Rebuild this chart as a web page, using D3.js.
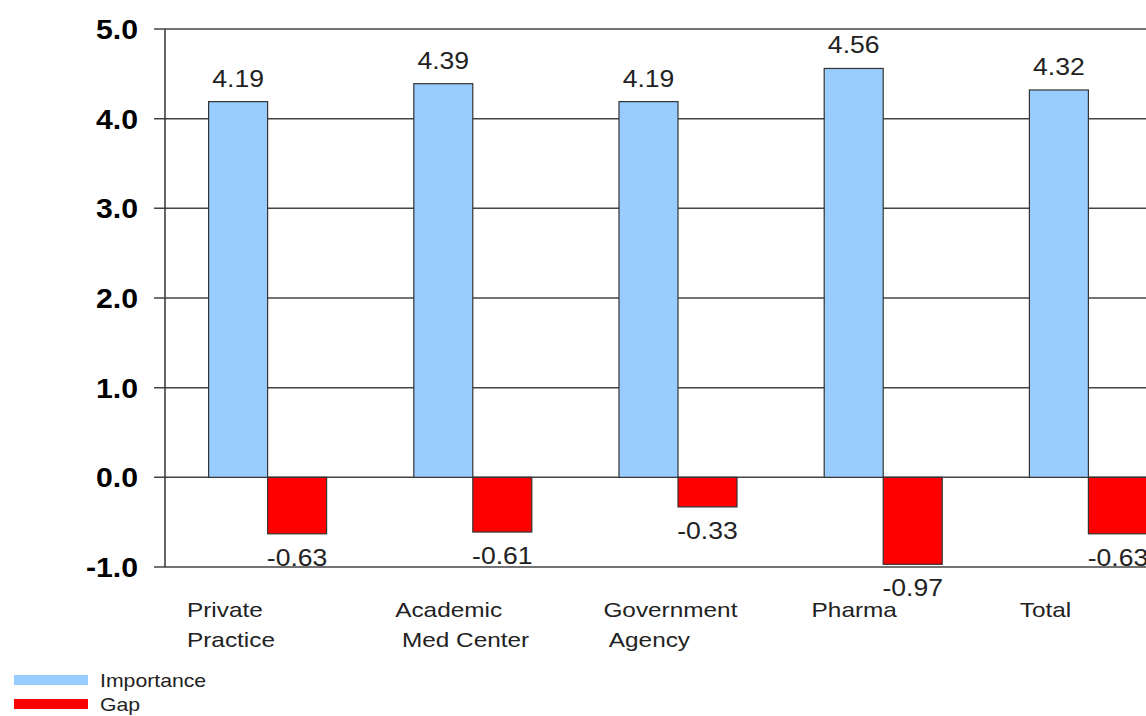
<!DOCTYPE html>
<html><head><meta charset="utf-8">
<script src="https://cdn.jsdelivr.net/npm/d3@7"></script>
<style>
html,body{margin:0;padding:0;background:#fff;overflow:hidden;}
text{font-family:"Liberation Sans",Arial,sans-serif;}
</style></head>
<body>
<svg id="c" width="1146" height="716"></svg>
<script>
const categories = [["Private","Practice"],["Academic"," Med Center"],["Government"," Agency"],["Pharma"],["Total"]];
const importance = [4.19, 4.39, 4.19, 4.56, 4.32];
const gap = [-0.63, -0.61, -0.33, -0.97, -0.63];
const yTicks = [-1, 0, 1, 2, 3, 4, 5];
const seriesNames = ["Importance", "Gap"];
const colors = ["#99ccff", "#ff0000"];

const svg = d3.select("#c");
const mLeft = 165, mRight = 1191, mTop = 29, mBottom = 567;
const x = d3.scaleBand().domain(d3.range(categories.length)).range([mLeft, mRight]);
const y = d3.scaleLinear().domain([-1, 5]).range([mBottom, mTop]);
const bw = 59;
const sx = 1.15;
const tf = (px, py, s) => `translate(${px},${py}) scale(${s || sx},1)`;

// gridlines
svg.append("g").selectAll("line").data(yTicks).join("line")
  .attr("x1", mLeft - 11).attr("x2", mRight)
  .attr("y1", d => y(d)).attr("y2", d => y(d))
  .attr("stroke", "#444").attr("stroke-width", 1.5);

// y axis line
svg.append("line").attr("x1", mLeft).attr("x2", mLeft).attr("y1", mTop).attr("y2", mBottom)
  .attr("stroke", "#333").attr("stroke-width", 1.5);

// y tick labels
svg.append("g").selectAll("text").data(yTicks).join("text")
  .attr("transform", d => tf(138, y(d) + 10, 1.08))
  .attr("text-anchor", "end").attr("font-size", 28).attr("font-weight", "bold")
  .attr("fill", "#000").text(d => d.toFixed(1));

const center = i => x(i) + x.bandwidth() / 2;

// importance bars
svg.append("g").selectAll("rect").data(importance).join("rect")
  .attr("x", (d, i) => center(i) - bw).attr("width", bw)
  .attr("y", d => y(d)).attr("height", d => y(0) - y(d))
  .attr("fill", colors[0]).attr("stroke", "#333").attr("stroke-width", 1.2);

// gap bars
svg.append("g").selectAll("rect").data(gap).join("rect")
  .attr("x", (d, i) => center(i)).attr("width", bw)
  .attr("y", y(0)).attr("height", d => y(d) - y(0))
  .attr("fill", colors[1]).attr("stroke", "#333").attr("stroke-width", 1.2);

// value labels
svg.append("g").selectAll("text").data(importance).join("text")
  .attr("transform", (d, i) => tf(center(i) - bw / 2, y(d) - 15, 1.13))
  .attr("text-anchor", "middle").attr("font-size", 23.5).attr("fill", "#222")
  .text(d => d.toFixed(2));
svg.append("g").selectAll("text").data(gap).join("text")
  .attr("transform", (d, i) => tf(center(i) + bw / 2, y(d) + 32, 1.13))
  .attr("text-anchor", "middle").attr("font-size", 23.5).attr("fill", "#222")
  .text(d => d.toFixed(2));

// category labels
const cat = svg.append("g").selectAll("text").data(categories).join("text")
  .attr("transform", (d, i) => tf(x(i) + 22 + i * 3, 617, 1.16))
  .attr("font-size", 21).attr("fill", "#222").attr("xml:space", "preserve");
cat.selectAll("tspan").data(d => d).join("tspan")
  .attr("x", 0)
  .attr("dy", (d, j) => j === 0 ? 0 : 30)
  .text(d => d);

// legend
const lg = svg.append("g");
seriesNames.forEach((n, i) => {
  lg.append("rect").attr("x", 14).attr("y", 675 + i * 24).attr("width", 74).attr("height", 10)
    .attr("fill", colors[i]);
  lg.append("text").attr("transform", tf(100, 687 + i * 24, 1.18)).attr("font-size", 18)
    .attr("fill", "#222").text(n);
});
</script>
</body></html>
